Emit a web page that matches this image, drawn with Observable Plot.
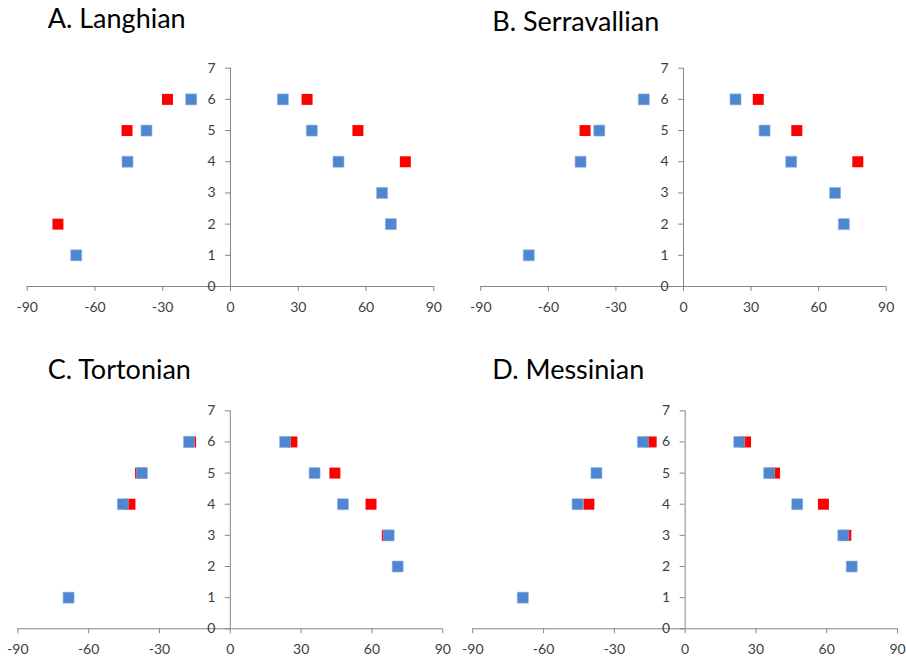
<!DOCTYPE html>
<html>
<head>
<meta charset="utf-8">
<script src="https://cdn.jsdelivr.net/npm/d3@7"></script>
<script src="https://cdn.jsdelivr.net/npm/@observablehq/plot@0.6"></script>
<style>
  body { margin: 0; background: #fff; }
  #chart { position: relative; width: 906px; height: 661px; overflow: hidden; font-family: Lato, sans-serif; background: #fff; }
  .panel { position: absolute; }
  .title { position: absolute; font-family: Lato, sans-serif; font-size: 27px; line-height: 27px; color: #000; white-space: nowrap; }
</style>
</head>
<body>
<div id="chart"></div>
<script>
// Stage names
const stageTitles = ["A. Langhian", "B. Serravallian", "C. Tortonian", "D. Messinian"];

// Axis ticks
const xTicks = [-90, -60, -30, 0, 30, 60, 90];
const yTicks = [0, 1, 2, 3, 4, 5, 6, 7];

// Points per stage: [x, level]
const blueA = [[-68.3, 1], [71.0, 2], [67.1, 3], [-45.6, 4], [47.8, 4], [-37.2, 5], [36.0, 5], [-17.4, 6], [23.2, 6]];
const redA  = [[-76.4, 2], [77.4, 4], [-45.8, 5], [56.4, 5], [-27.9, 6], [33.9, 6]];

const blueB = [[-68.7, 1], [71.2, 2], [67.3, 3], [-45.7, 4], [47.8, 4], [-37.4, 5], [36.0, 5], [-17.6, 6], [23.1, 6]];
const redB  = [[77.4, 4], [-43.7, 5], [50.3, 5], [33.2, 6]];

const blueC = [[-68.5, 1], [70.9, 2], [67.1, 3], [-45.5, 4], [47.7, 4], [-37.4, 5], [35.7, 5], [-17.5, 6], [23.2, 6]];
const redC  = [[66.5, 3], [-42.5, 4], [59.6, 4], [-38.0, 5], [44.3, 5], [-16.8, 6], [26.1, 6]];

const blueD = [[-68.8, 1], [70.6, 2], [67.0, 3], [-45.6, 4], [47.5, 4], [-37.6, 5], [35.6, 5], [-17.9, 6], [22.9, 6]];
const redD  = [[68.1, 3], [-40.8, 4], [58.6, 4], [37.9, 5], [-14.4, 6], [25.6, 6]];

const BLUE = "#4f86d0";
const RED = "#ff0000";
const AXIS = "#868686";
const LABEL = "#404040";

// Panel layout (box position and frame margins)
const panels = [
  { title: stageTitles[0], blue: blueA, red: redA, left: 0,   top: 0,   ml: 26.7, mr: 19.7, mt: 67.7, mb: 44,   tx: 47.7,  tb: 28.3 },
  { title: stageTitles[1], blue: blueB, red: redB, left: 453, top: 0,   ml: 27.3, mr: 20.3, mt: 67.7, mb: 44,   tx: 492.3, tb: 31 },
  { title: stageTitles[2], blue: blueC, red: redC, left: 0,   top: 331, ml: 17.3, mr: 10.7, mt: 79.3, mb: 32.7, tx: 47.7,  tb: 379 },
  { title: stageTitles[3], blue: blueD, red: redD, left: 453, top: 331, ml: 19.3, mr: 9,    mt: 79.3, mb: 32.7, tx: 492.3, tb: 379 }
];

const chart = document.getElementById("chart");

for (const p of panels) {
  const svg = Plot.plot({
    width: 453,
    height: 330,
    marginLeft: p.ml,
    marginRight: p.mr,
    marginTop: p.mt,
    marginBottom: p.mb,
    style: { fontFamily: "Lato, sans-serif", background: "transparent", overflow: "visible" },
    x: { domain: [-90, 90] },
    y: { domain: [0, 7], axis: null },
    marks: [
      // x axis line and ticks
      Plot.ruleY([0], { stroke: AXIS }),
      Plot.axisX(xTicks, {
        tickSize: 5, tickPadding: 10.5, stroke: AXIS, fill: LABEL, fontSize: 14,
        tickFormat: d => String(d), label: null
      }),
      // y axis drawn through x = 0
      Plot.ruleX([0], { stroke: AXIS }),
      Plot.ruleY(yTicks, { y: d => d, x1: 0, x2: 0, insetLeft: -5, stroke: AXIS }),
      Plot.text(yTicks, { x: 0, y: d => d, text: d => String(d), dx: -15, textAnchor: "end", fill: LABEL, fontSize: 14 }),
      // markers
      Plot.dot(p.red, { x: d => d[0], y: d => d[1], symbol: "square", r: 6.2, fill: RED }),
      Plot.dot(p.blue, { x: d => d[0], y: d => d[1], symbol: "square", r: 6.2, fill: BLUE, stroke: "#8fb2e3", strokeWidth: 0.6 })
    ]
  });
  svg.classList.add("panel");
  svg.style.left = p.left + "px";
  svg.style.top = p.top + "px";
  chart.appendChild(svg);

  const t = document.createElement("div");
  t.className = "title";
  t.textContent = p.title;
  t.style.left = p.tx + "px";
  t.style.top = (p.tb - 24) + "px";
  chart.appendChild(t);
}
</script>
</body>
</html>
